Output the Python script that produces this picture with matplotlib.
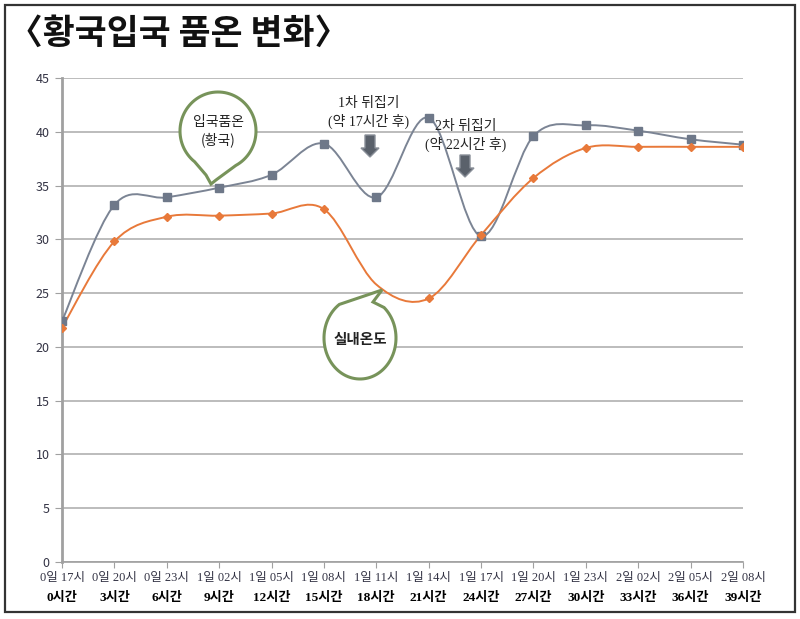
import numpy as np
import matplotlib
matplotlib.use('Agg')
import matplotlib.pyplot as plt
from matplotlib.path import Path
from matplotlib.patches import PathPatch, Polygon, Rectangle

plt.rcParams['font.family'] = ['Noto Sans CJK KR', 'DejaVu Sans']

hours = [0, 3, 6, 9, 12, 15, 18, 21, 24, 27, 30, 33, 36, 39]
clock = ['0일 17시', '0일 20시', '0일 23시', '1일 02시', '1일 05시', '1일 08시', '1일 11시',
         '1일 14시', '1일 17시', '1일 20시', '1일 23시', '2일 02시', '2일 05시', '2일 08시']
elapsed = ['0시간', '3시간', '6시간', '9시간', '12시간', '15시간', '18시간',
           '21시간', '24시간', '27시간', '30시간', '33시간', '36시간', '39시간']
koji = [22.4, 33.2, 33.9, 34.8, 36.0, 38.9, 33.9, 41.3, 30.3, 39.6, 40.6, 40.1, 39.3, 38.8]
room = [21.8, 29.8, 32.1, 32.2, 32.4, 32.8, 25.8, 24.5, 30.4, 35.7, 38.5, 38.6, 38.6, 38.6]

W, H = 800, 619
fig = plt.figure(figsize=(8, 6.19), dpi=100)
ax = fig.add_axes([62 / W, 1 - 562 / H, (743 - 62) / W, (562 - 78) / H])


def px(x, y):
    return (x / W, 1 - y / H)


def smooth_path(xs, ys):
    p = np.column_stack([xs, ys]).astype(float)
    verts = [p[0]]
    codes = [Path.MOVETO]
    n = len(p)
    for i in range(n - 1):
        p0 = p[i - 1] if i > 0 else p[i]
        p1, p2 = p[i], p[i + 1]
        p3 = p[i + 2] if i + 2 < n else p[i + 1]
        verts += [p1 + (p2 - p0) / 6, p2 - (p3 - p1) / 6, p2]
        codes += [Path.CURVE4] * 3
    return Path(verts, codes)


gray = '#7b8494'
orange = '#e8793a'
ax.add_patch(PathPatch(smooth_path(hours, koji), fill=False, ec=gray, lw=1.4, zorder=3))
ax.add_patch(PathPatch(smooth_path(hours, room), fill=False, ec=orange, lw=1.4, zorder=3))
ax.plot(hours, koji, ls='none', marker='s', ms=6, color='#6e7889', zorder=4)
# the 18h marker of the room series is hidden in the original
room_marks = [i for i in range(len(hours)) if i != 6]
ax.plot(hours, room, ls='none', marker='D', ms=4, color=orange, markevery=room_marks, zorder=4)

ax.set_xlim(0, 39)
ax.set_ylim(0, 45)
ax.set_yticks(range(0, 46, 5))
ax.yaxis.grid(True, color='#b0b0b0', lw=1.2)
ax.set_axisbelow(True)
for s in ['top', 'right']:
    ax.spines[s].set_visible(False)
ax.spines['left'].set_color('#a0a0a0')
ax.spines['left'].set_linewidth(2)
ax.spines['bottom'].set_color('#a0a0a0')
ax.spines['bottom'].set_linewidth(1.2)
ax.tick_params(axis='y', length=5, color='#a0a0a0', labelsize=9, labelcolor='#333344', pad=4)
ax.set_xticks(hours)
ax.set_xticklabels(clock, fontsize=9, color='#333344', family=['Liberation Serif', 'Noto Sans CJK KR'])
ax.tick_params(axis='x', length=4, color='#a0a0a0', pad=3)
for h, lab in zip(hours, elapsed):
    ax.text(h, -0.074, lab, transform=ax.get_xaxis_transform(), ha='center', va='center',
            fontsize=9.5, fontweight='bold', color='black', family=['Liberation Serif', 'Noto Sans CJK KR'])

# title and frame
fig.text(8 / W, 1 - 33 / H, '〈황국입국 품온 변화〉', fontsize=25, fontweight='black',
         va='center', ha='left', color='#111111')
fig.add_artist(Rectangle(px(5, 612), 790 / W, 607 / H, fill=False, ec='#333333', lw=1.6,
                         transform=fig.transFigure))


def balloon(cx, cy, rx, ry, a_start, a_end, tail):
    ang = np.linspace(np.radians(a_start), np.radians(a_end), 80)
    pts = [px(cx + rx * np.cos(a), cy - ry * np.sin(a)) for a in ang]
    pts += [px(x, y) for x, y in tail]
    fig.add_artist(Polygon(pts, closed=True, fc='white', ec='#77935a', lw=2.2,
                           transform=fig.transFigure, zorder=5))


balloon(218, 131, 38, 39, -62, 232, [(206, 175), (211, 184), (216, 180)])
fig.text(*px(218, 131), '입국품온\n(황국)', ha='center', va='center', fontsize=10,
         linespacing=1.3, color='#222222', fontweight='medium', zorder=6)

balloon(360, 338, 36, 41, 125, 408, [(373, 302), (382, 290)])
fig.text(*px(360, 339), '실내온도', ha='center', va='center', fontsize=10.5,
         fontweight='bold', color='#222222', zorder=6)


def down_arrow(x, y0, y1):
    pts = [(x - 5, y0), (x + 5, y0), (x + 5, y1 - 9), (x + 9, y1 - 9), (x, y1),
           (x - 9, y1 - 9), (x - 5, y1 - 9)]
    fig.add_artist(Polygon([px(a, b) for a, b in pts], closed=True, fc='#5a616b',
                           ec='#8a9099', lw=1, transform=fig.transFigure, zorder=6))


fig.text(*px(369, 113), '1차 뒤집기\n(약 17시간 후)', ha='center', va='center', fontsize=10,
         linespacing=1.25, color='#222222', fontweight='medium',
         family=['Liberation Serif', 'Noto Sans CJK KR'])
down_arrow(370, 135, 157)
fig.text(*px(466, 136), '2차 뒤집기\n(약 22시간 후)', ha='center', va='center', fontsize=10,
         linespacing=1.25, color='#222222', fontweight='medium',
         family=['Liberation Serif', 'Noto Sans CJK KR'])
down_arrow(465, 155, 177)

fig.savefig('out.png', dpi=100)
